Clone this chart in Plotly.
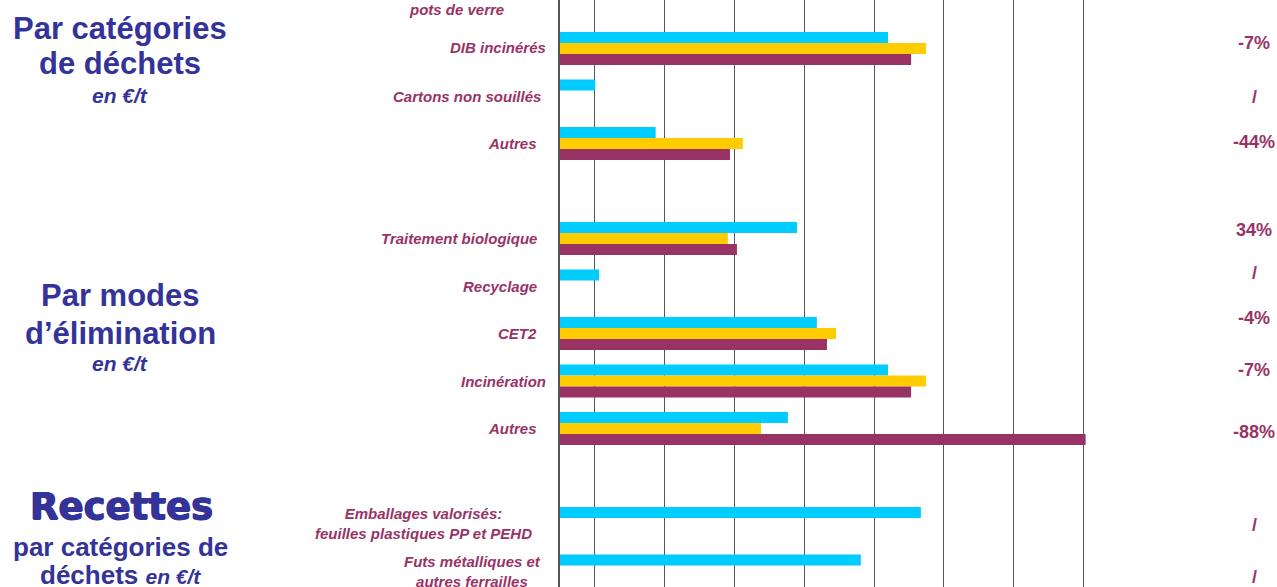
import plotly.graph_objects as go

# ---------------- data ----------------
categories = [
    "pots de verre",
    "DIB incinérés",
    "Cartons non souillés",
    "Autres",
    "",
    "Traitement biologique",
    "Recyclage",
    "CET2",
    "Incinération",
    "Autres",
    "",
    "Emballages valorisés:<br>feuilles plastiques PP et PEHD",
    "Futs métalliques et<br>autres ferrailles",
]
serie_cyan = [None, 94.0, 10.1, 27.4, None, 67.9, 11.2, 73.6, 94.0, 65.3, None, 103.4, 86.2]
serie_jaune = [None, 104.9, None, 52.4, None, 48.1, None, 79.1, 104.9, 57.6, None, None, None]
serie_violet = [None, 100.6, None, 48.7, None, 50.7, None, 76.5, 100.6, 150.6, None, None, None]
evolutions = [None, "-7%", "/", "-44%", None, "34%", "/", "-4%", "-7%", "-88%", None, "/", "/"]
x_ticks = [10, 30, 50, 70, 90, 110, 130, 150]

# ---------------- layout geometry ----------------
W, H = 1277, 587
PL, PR = 560, 1090            # plot area in pixels
PX_PER_UNIT = 3.49
ROW = 47.5                    # pixels per category
ROW0 = 1.0                    # pixel centre of first category


def px_x(p):
    return (p - PL) / (PR - PL)


def px_y(p):
    return 1 - p / H


VIOLET = "#993366"
BLEU = "#333399"
FONT = "Liberation Sans, Arial, sans-serif"

pos = list(range(len(categories)))

fig = go.Figure()
for vals, col, name in [(serie_cyan, "#00CCFF", "Série 1"),
                        (serie_jaune, "#FFCC00", "Série 2"),
                        (serie_violet, VIOLET, "Série 3")]:
    fig.add_trace(go.Bar(x=vals, y=pos, orientation="h", name=name,
                         marker=dict(color=col, line=dict(width=0))))

annotations = []

# category labels (right aligned next to the axis, lines centred)
label_right = {0: 506, 1: 548, 2: 543, 8: 548, 11: 534, 12: 543}
label_yshift = {0: -8, 1: 1}
for i, cat in enumerate(categories):
    if not cat:
        continue
    annotations.append(dict(
        text=cat, xref="paper", x=px_x(label_right.get(i, 539)), xanchor="right",
        yref="y", y=i, yanchor="middle", yshift=label_yshift.get(i, 0),
        align="center", showarrow=False,
        font=dict(family=FONT, size=15, color=VIOLET, weight="bold", style="italic")))

# evolution percentages on the right
pct_y_px = [43, 97, 142, 230, 273, 318, 370, 432, 525, 577]
k = 0
for ev in evolutions:
    if ev is None:
        continue
    annotations.append(dict(
        text=ev, xref="paper", x=px_x(1254), xanchor="center",
        yref="paper", y=px_y(pct_y_px[k]), yanchor="middle", showarrow=False,
        font=dict(family=FONT, size=18, color=VIOLET, weight="bold")))
    k += 1

# section titles on the left
titles = [
    ("Par catégories", 120, 28, 31, "normal", FONT, "none"),
    ("de déchets", 120, 64, 31, "normal", FONT, "none"),
    ("en €/t", 120, 95, 21, "italic", FONT, "none"),
    ("Par modes", 120, 296, 31, "normal", FONT, "none"),
    ("d’élimination", 120, 333, 31, "normal", FONT, "none"),
    ("en €/t", 120, 363, 21, "italic", FONT, "none"),
    ("Recettes", 121, 506, 37, "normal", "DejaVu Sans, Arial Black, sans-serif",
     "0.7px 0 0 #333399, -0.7px 0 0 #333399, 0 0.5px 0 #333399"),
    ("par catégories de", 120, 547, 26, "normal", FONT, "none"),
    ("déchets <span style='font-size:21px;font-style:italic'>en €/t</span>", 120, 575, 26, "normal", FONT, "none"),
]
for text, xp, yp, size, style, fam, shadow in titles:
    annotations.append(dict(
        text=text, xref="paper", x=px_x(xp), xanchor="center",
        yref="paper", y=px_y(yp), yanchor="middle", showarrow=False,
        font=dict(family=fam, size=size, color=BLEU, weight="bold", style=style,
                  shadow=shadow)))

fig.update_layout(
    width=W, height=H, autosize=False,
    margin=dict(l=PL, r=W - PR, t=0, b=0, pad=0),
    paper_bgcolor="white", plot_bgcolor="white",
    barmode="group", bargap=0.305, bargroupgap=0,
    showlegend=False,
    annotations=annotations,
    xaxis=dict(range=[0, (PR - PL) / PX_PER_UNIT], tickvals=x_ticks,
               showticklabels=False, ticks="", showgrid=True,
               gridcolor="#555555", gridwidth=1, zeroline=False, showline=False),
    yaxis=dict(range=[(H - ROW0) / ROW, (0 - ROW0) / ROW],
               showticklabels=False, ticks="", showgrid=False, zeroline=False,
               showline=True, linecolor="#555555", linewidth=1.5),
)

fig.write_html(
    "out.html",
    config={"displayModeBar": False},
    post_script="document.body.style.margin='0';document.body.style.overflow='hidden';",
)
